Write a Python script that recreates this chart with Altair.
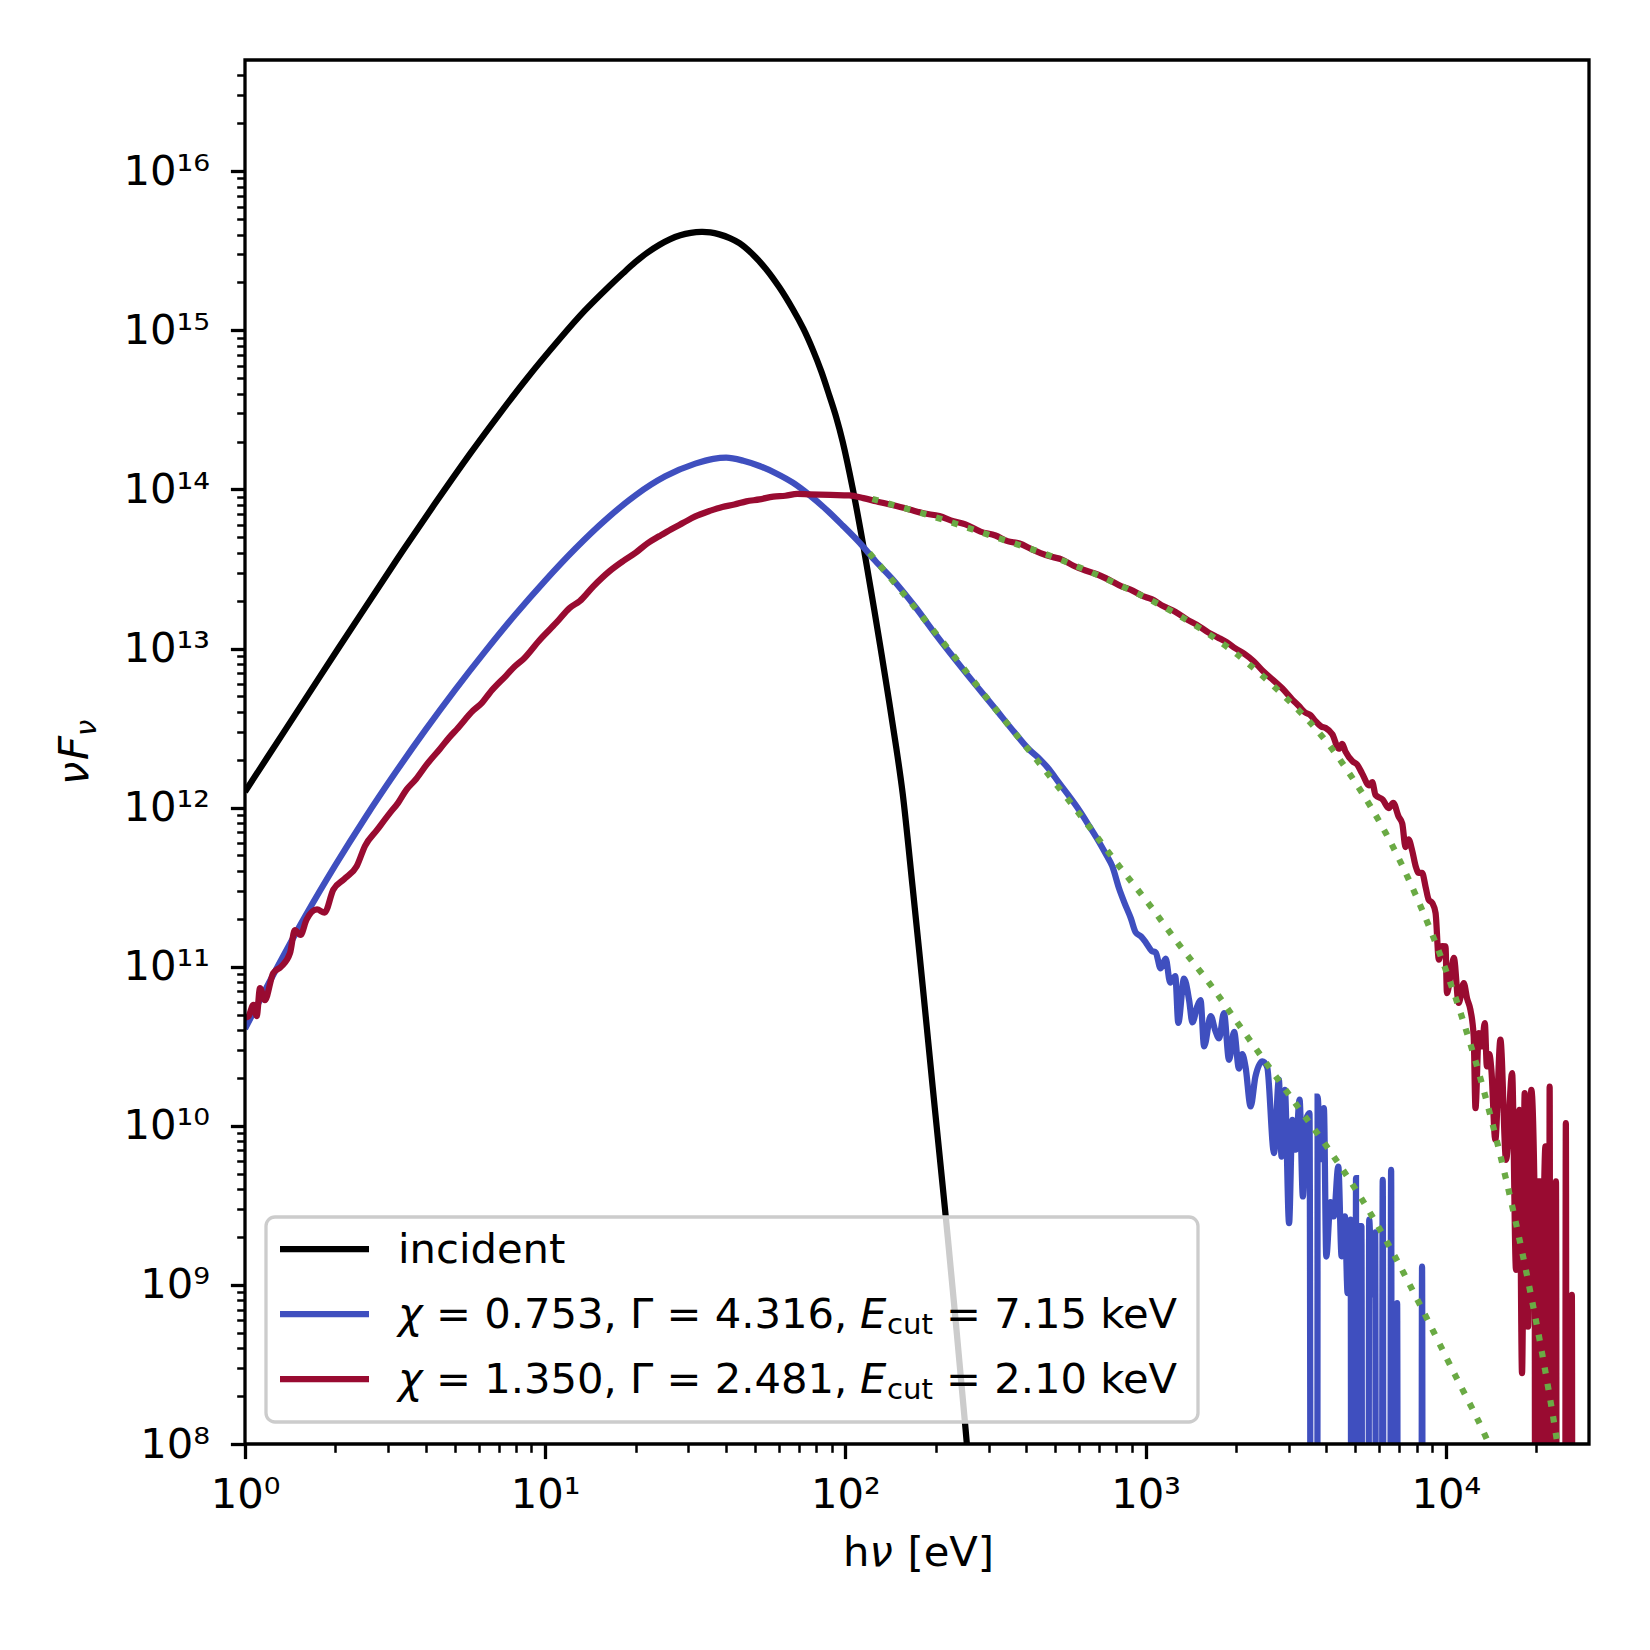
import math
import altair as alt
import pandas as pd

FONT = "DejaVu Sans"
FS = 41.7
LW = 6.25

# ---- values: (log10 hν [eV], log10 νFν); None = empty bin ----
incident = [
    (0.000, 12.10), (0.125, 12.462), (0.250, 12.825), (0.380, 13.199), (0.505, 13.556),
    (0.630, 13.903), (0.750, 14.225), (0.850, 14.480), (0.935, 14.688), (1.048, 14.945),
    (1.130, 15.12), (1.215, 15.28), (1.260, 15.36), (1.300, 15.428), (1.340, 15.488),
    (1.381, 15.538), (1.415, 15.572), (1.450, 15.597), (1.485, 15.612), (1.520, 15.618),
    (1.550, 15.615), (1.580, 15.603), (1.615, 15.58), (1.647, 15.548), (1.690, 15.48),
    (1.736, 15.384), (1.780, 15.27), (1.825, 15.132), (1.860, 15.01), (1.891, 14.88),
    (1.920, 14.74), (1.947, 14.587), (1.970, 14.45), (1.991, 14.30), (2.024, 14.01),
    (2.058, 13.665), (2.078, 13.445), (2.096, 13.245), (2.120, 12.97), (2.146, 12.664),
    (2.170, 12.37), (2.191, 12.086), (2.224, 11.50), (2.258, 10.87), (2.291, 10.24),
    (2.322, 9.66), (2.341, 9.30), (2.370, 8.72), (2.400, 8.10), (2.430, 7.45),
]

blue_spec = [
    (0.000, 10.61), (0.100, 10.97), (0.200, 11.315), (0.300, 11.635), (0.400, 11.935),
    (0.500, 12.217), (0.600, 12.485), (0.700, 12.74), (0.800, 12.982), (0.900, 13.212),
    (1.000, 13.427), (1.100, 13.627), (1.200, 13.807), (1.300, 13.962), (1.400, 14.082),
    (1.500, 14.162), (1.560, 14.192), (1.603, 14.199), (1.660, 14.18), (1.714, 14.147),
    (1.770, 14.10), (1.825, 14.042), (1.880, 13.965), (1.936, 13.874), (1.990, 13.775),
    (2.047, 13.665), (2.100, 13.55), (2.158, 13.434), (2.235, 13.256), (2.300, 13.09),
    (2.400, 12.85), (2.500, 12.62), (2.560, 12.48), (2.612, 12.365), (2.650, 12.30),
    (2.679, 12.24), (2.710, 12.16), (2.734, 12.10), (2.780, 11.98), (2.812, 11.885),
    (2.845, 11.784), (2.870, 11.70), (2.889, 11.632), (2.912, 11.49), (2.930, 11.40),
    (2.951, 11.304), (2.967, 11.216), (2.985, 11.19), (3.001, 11.152), (3.020, 11.10),
    (3.034, 11.089), (3.050, 10.99), (3.067, 11.051), (3.082, 10.90), (3.099, 10.94),
    (3.109, 10.647), (3.128, 10.925), (3.145, 10.79), (3.156, 10.65), (3.172, 10.75),
    (3.183, 10.79), (3.195, 10.499), (3.217, 10.69), (3.232, 10.60), (3.245, 10.55),
    (3.261, 10.709), (3.278, 10.415), (3.295, 10.59), (3.311, 10.36), (3.322, 10.45),
    (3.333, 10.37), (3.350, 10.122), (3.366, 10.31), (3.389, 10.405), (3.405, 10.37),
    (3.428, 9.828), (3.444, 10.29), (3.453, 9.807), (3.464, 10.226), (3.478, 9.388),
    (3.489, 10.038), (3.500, 9.85), (3.513, 10.164), (3.524, 9.556), (3.535, 10.04),
    (3.546, 10.08), (3.565, None), (3.573, 10.184), (3.583, 9.79), (3.594, 10.111),
    (3.602, 9.178), (3.616, 9.52), (3.627, 9.43), (3.642, 9.744), (3.653, 9.18),
    (3.664, 9.43), (3.673, 8.948), (3.683, 9.41), (3.694, None), (3.701, 9.671),
    (3.710, None), (3.719, 9.37), (3.732, None), (3.745, 9.41), (3.754, 8.94),
    (3.765, 9.33), (3.776, None), (3.790, 9.66), (3.803, None), (3.818, 9.723),
    (3.828, None), (3.838, 8.885), (3.850, None), (3.910, None), (3.921, 9.115),
    (3.932, None), (4.470, None),
]

red_spec = [
    (0.000, 10.68), (0.011, 10.687), (0.028, 10.76), (0.039, 10.69), (0.050, 10.866),
    (0.066, 10.79), (0.094, 10.96), (0.120, 11.00), (0.150, 11.086), (0.166, 11.23),
    (0.185, 11.20), (0.205, 11.296), (0.240, 11.36), (0.265, 11.34), (0.294, 11.484),
    (0.330, 11.55), (0.372, 11.631), (0.400, 11.76), (0.440, 11.86), (0.483, 11.967),
    (0.510, 12.03), (0.538, 12.113), (0.570, 12.18), (0.605, 12.27), (0.650, 12.37),
    (0.680, 12.44), (0.705, 12.491), (0.760, 12.61), (0.790, 12.66), (0.815, 12.721),
    (0.870, 12.83), (0.900, 12.89), (0.926, 12.931), (0.980, 13.05), (1.037, 13.162),
    (1.082, 13.256), (1.115, 13.298), (1.160, 13.39), (1.215, 13.487), (1.260, 13.55),
    (1.300, 13.60), (1.340, 13.66), (1.381, 13.707), (1.420, 13.75), (1.460, 13.79),
    (1.500, 13.83), (1.547, 13.864), (1.590, 13.89), (1.630, 13.905), (1.670, 13.925),
    (1.714, 13.937), (1.760, 13.955), (1.800, 13.96), (1.840, 13.972), (1.880, 13.969),
    (1.950, 13.965), (2.013, 13.962), (2.060, 13.945), (2.102, 13.926), (2.160, 13.90),
    (2.213, 13.874), (2.260, 13.85), (2.313, 13.832), (2.360, 13.80), (2.400, 13.78),
    (2.450, 13.735), (2.500, 13.71), (2.540, 13.675), (2.580, 13.66), (2.620, 13.625),
    (2.650, 13.60), (2.690, 13.575), (2.720, 13.56), (2.760, 13.52), (2.800, 13.49),
    (2.840, 13.465), (2.880, 13.43), (2.920, 13.39), (2.950, 13.37), (2.990, 13.33),
    (3.020, 13.31), (3.060, 13.265), (3.100, 13.23), (3.140, 13.18), (3.170, 13.15),
    (3.210, 13.10), (3.240, 13.07), (3.270, 13.04), (3.300, 13.00), (3.330, 12.965),
    (3.360, 12.92), (3.390, 12.86), (3.420, 12.81), (3.455, 12.75), (3.489, 12.679),
    (3.510, 12.64), (3.530, 12.60), (3.550, 12.58), (3.566, 12.543), (3.585, 12.51),
    (3.600, 12.50), (3.622, 12.461), (3.644, 12.37), (3.655, 12.40), (3.666, 12.352),
    (3.690, 12.29), (3.705, 12.27), (3.721, 12.216), (3.745, 12.14), (3.755, 12.16),
    (3.766, 12.079), (3.790, 12.05), (3.810, 11.997), (3.825, 12.03), (3.843, 11.943),
    (3.855, 11.90), (3.866, 11.752), (3.876, 11.80), (3.888, 11.73), (3.900, 11.63),
    (3.910, 11.589), (3.921, 11.59), (3.933, 11.50), (3.943, 11.421), (3.955, 11.40),
    (3.966, 11.338), (3.977, 11.044), (3.988, 11.13), (3.999, 11.128), (4.004, 10.834),
    (4.016, 10.95), (4.027, 11.055), (4.043, 10.772), (4.060, 10.897), (4.071, 10.80),
    (4.082, 10.730), (4.093, 10.562), (4.099, 10.111), (4.110, 10.583), (4.120, 10.50),
    (4.130, 10.646), (4.137, 10.373), (4.145, 10.45), (4.152, 10.35), (4.165, 9.912),
    (4.182, 10.541), (4.201, 9.786), (4.221, 10.331), (4.234, 9.094), (4.245, 10.10),
    (4.254, 8.445), (4.263, 10.206), (4.274, 8.738), (4.285, 10.226), (4.296, 9.535),
    (4.306, None), (4.315, 9.650), (4.322, 9.22), (4.332, 9.87), (4.340, None),
    (4.346, 10.247), (4.356, None), (4.367, 9.65), (4.380, None), (4.390, None),
    (4.400, 10.017), (4.410, None), (4.420, 8.937), (4.430, None), (4.470, None),
]

blue_fit = [
    (2.080, 13.60), (2.200, 13.33), (2.350, 12.98), (2.500, 12.62), (2.650, 12.27),
    (2.800, 11.91), (2.912, 11.632), (3.012, 11.392), (3.111, 11.14), (3.211, 10.90),
    (3.311, 10.635), (3.411, 10.37), (3.511, 10.11), (3.611, 9.85), (3.710, 9.57),
    (3.810, 9.25), (3.910, 8.89), (4.032, 8.43), (4.110, 8.14), (4.160, 7.93),
]

red_fit = [
    (2.090, 13.94), (2.300, 13.825), (2.500, 13.70), (2.700, 13.57), (2.900, 13.41),
    (3.100, 13.22), (3.300, 12.97), (3.500, 12.63), (3.600, 12.42), (3.700, 12.155),
    (3.800, 11.84), (3.900, 11.45), (4.000, 10.98), (4.100, 10.40), (4.200, 9.67),
    (4.300, 8.78), (4.372, 8.00), (4.400, 7.60),
]

x_major = [1, 10, 100, 1000, 10000]
x_major_labels = ["10⁰", "10¹", "10²", "10³", "10⁴"]
y_major = [1e8, 1e9, 1e10, 1e11, 1e12, 1e13, 1e14, 1e15, 1e16]
y_major_labels = ["10⁸", "10⁹", "10¹⁰", "10¹¹", "10¹²", "10¹³", "10¹⁴", "10¹⁵", "10¹⁶"]
x_minor = [m * 10.0 ** k for k in range(0, 5) for m in range(2, 10) if m * 10.0 ** k < 3e4]
y_minor = [m * 10.0 ** k for k in range(8, 17) for m in range(2, 10) if m * 10.0 ** k < 5e16]

legend_names = ["incident",
                ("= 0.753, Γ = 4.316,", "= 7.15 keV"),
                ("= 1.350, Γ = 2.481,", "= 2.10 keV")]
colors = {"incident": "#000000", "blue": "#3f4fbf", "red": "#990b31", "fit": "#6aaa44"}


def frame(pairs):
    rows = []
    for le, lf in pairs:
        f = 10.0 ** lf if lf is not None else 0.0
        # empty bins drop off the log axis (as matplotlib's clip of non-positive values)
        rows.append({"E": 10.0 ** le, "F": f, "F_plot": f if f > 0 else 1e-30})
    return pd.DataFrame(rows)


def label_expr(vals, labels):
    parts = [f"abs(log(datum.value)/LN10 - {round(math.log10(v))}) < 0.01 ? '{l}'"
             for v, l in zip(vals, labels)]
    return " : ".join(parts) + " : ''"


MAJOR = "abs(log(datum.value)/LN10 - round(log(datum.value)/LN10)) < 0.01"
tick_dash = {"condition": {"test": MAJOR, "value": [30, 1]}, "value": [8.3, 40]}
tick_width = {"condition": {"test": MAJOR, "value": 3.3}, "value": 2.5}

x_axis = alt.Axis(values=x_major + x_minor, labelExpr=label_expr(x_major, x_major_labels),
                  title=None, grid=False, domain=False, tickColor="black", tickSize=14.6,
                  tickDash=tick_dash, tickWidth=tick_width, labelFont=FONT, labelFontSize=FS,
                  labelColor="black", labelPadding=16, labelFlush=False, labelOverlap=False,
                  labelBound=False, orient="bottom")
y_axis = alt.Axis(values=y_major + y_minor, labelExpr=label_expr(y_major, y_major_labels),
                  title=None, grid=False, domain=False, tickColor="black", tickSize=14.6,
                  tickDash=tick_dash, tickWidth=tick_width, labelFont=FONT, labelFontSize=FS,
                  labelColor="black", labelPadding=21, labelOverlap=False, labelBound=False,
                  orient="left")
xs = alt.Scale(type="log", domain=[1, 3e4], nice=False)
ys = alt.Scale(type="log", domain=[1e8, 5e16], nice=False)


def curve(pairs, color, dash=None, interp="linear"):
    kw = dict(color=color, strokeWidth=LW, clip=True, interpolate=interp)
    if dash:
        kw["strokeDash"] = dash
    return alt.Chart(frame(pairs)).mark_line(**kw).encode(
        x=alt.X("E:Q", scale=xs, axis=x_axis),
        y=alt.Y("F_plot:Q", scale=ys, axis=y_axis),
    )


one = pd.DataFrame({"k": [0]})


def txt(s, x, y, size=FS, style="normal", angle=0):
    return alt.Chart(one).mark_text(text=s, align="left", baseline="alphabetic", font=FONT,
                                    fontSize=size, fontStyle=style, angle=angle,
                                    color="black").encode(x=alt.value(x), y=alt.value(y))


def rule(color, y):
    return alt.Chart(one).mark_rule(color=color, strokeWidth=LW).encode(
        x=alt.value(35), x2=alt.value(124), y=alt.value(y))


W, H = 1344, 1384
DOT = [LW, LW * 1.65]
layers = [
    curve(incident, colors["incident"], interp="catmull-rom"),
    curve(blue_spec, colors["blue"], interp="monotone"),
    curve(red_spec, colors["red"], interp="monotone"),
    curve(blue_fit, colors["fit"], dash=DOT, interp="catmull-rom"),
    curve(red_fit, colors["fit"], dash=DOT, interp="catmull-rom"),
    alt.Chart(one).mark_rect(fillOpacity=0, fill="white", stroke="black", strokeWidth=3.3).encode(
        x=alt.value(0), x2=alt.value(W), y=alt.value(0), y2=alt.value(H)),
    # legend
    alt.Chart(one).mark_rect(fill="white", fillOpacity=0.8, stroke="#cccccc", strokeWidth=3.3,
                             cornerRadius=9).encode(
        x=alt.value(21), x2=alt.value(953), y=alt.value(1157), y2=alt.value(1362)),
    rule(colors["incident"], 1189),
    rule(colors["blue"], 1254),
    rule(colors["red"], 1319),
    txt(legend_names[0], 153, 1203),
]
for (mid, tail), yb in zip(legend_names[1:], [1268, 1333]):
    layers += [
        txt("χ", 153, yb, style="italic"),
        txt(mid, 191, yb),
        txt("E", 615, yb, style="italic"),
        txt("cut", 642, yb + 6, size=FS * 0.7),
        txt(tail, 701, yb),
    ]
# axis titles
layers += [
    txt("h", 598, 1506),
    txt("ν", 624.4, 1506, style="italic"),
    txt("[eV]", 662.4, 1506),
    txt("ν", -157, 725, style="italic", angle=270),
    txt("F", -157, 700, style="italic", angle=270),
    txt("ν", -149, 676, size=FS * 0.7, style="italic", angle=270),
]

chart = alt.layer(*layers).properties(
    width=W, height=H,
    padding={"left": 237, "top": 52, "right": 50, "bottom": 190},
    autosize=alt.AutoSizeParams(type="none"),
    background="white",
).configure_view(strokeWidth=0)

chart.save("out.html", embed_options={"renderer": "svg", "actions": False})
